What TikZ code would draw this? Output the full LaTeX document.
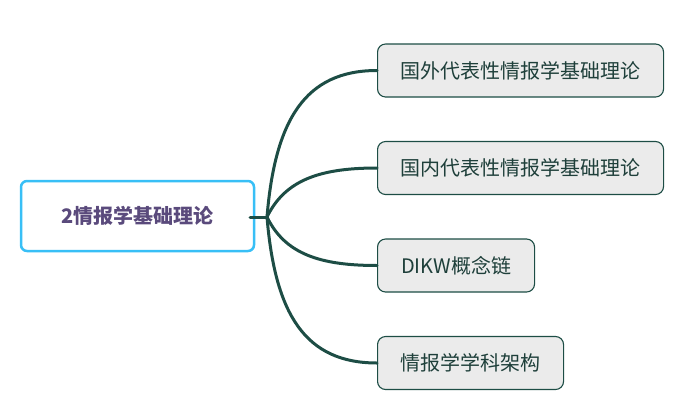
\documentclass[tikz,border=0pt]{standalone}
\usepackage{fontspec}
\setmainfont{Noto Sans CJK SC}
\usepackage{xcolor}
\usepackage{tikz}
\usetikzlibrary{positioning}
\definecolor{linkgreen}{HTML}{1D4D45}
\definecolor{rootblue}{HTML}{38BFF6}
\definecolor{rootpurple}{HTML}{5A4A7C}
\definecolor{leafgray}{HTML}{EBEBEB}
\definecolor{leaftext}{HTML}{1E3F3A}
\tikzset{
  root/.style={rectangle, draw=rootblue, line width=2.5pt, fill=white,
               rounded corners=6pt, minimum width=233pt, minimum height=70pt,
               text=rootpurple, font=\fontsize{20pt}{24pt}\selectfont\bfseries},
  leaf/.style={rectangle, draw=linkgreen, line width=1.1pt, fill=leafgray,
               rounded corners=8pt, minimum height=53pt, anchor=west,
               text=leaftext, font=\fontsize{20pt}{24pt}\selectfont},
  link/.style={draw=linkgreen, line width=3pt, line cap=round},
}

\begin{document}
\begin{tikzpicture}[x=1pt, y=-1pt]
  \useasboundingbox (0,0) rectangle (685,407);

  % Central topic
  \node[root] (topic) at (137.5,216) {2情报学基础理论};
  \coordinate (stub) at (250,217);
  \coordinate (hub)  at (267,217);

  % Subtopics
  \node[leaf, minimum width=286pt] (abroad)  at (377,70.5)  {国外代表性情报学基础理论};
  \node[leaf, minimum width=286pt] (domestic) at (377,168)  {国内代表性情报学基础理论};
  \node[leaf, minimum width=157pt] (dikw)    at (377,265.5) {DIKW概念链};
  \node[leaf, minimum width=186pt] (arch)    at (377,363)   {情报学学科架构};

  % Connectors
  \draw[link] (stub) -- (hub);
  \draw[link] (hub) .. controls +(8,-97) and +(-72,0) .. (abroad.west);
  \draw[link] (hub) .. controls +(18,-37) and +(-57,0) .. (domestic.west);
  \draw[link] (hub) .. controls +(18,37) and +(-57,0) .. (dikw.west);
  \draw[link] (hub) .. controls +(8,97) and +(-72,0) .. (arch.west);
\end{tikzpicture}
\end{document}
